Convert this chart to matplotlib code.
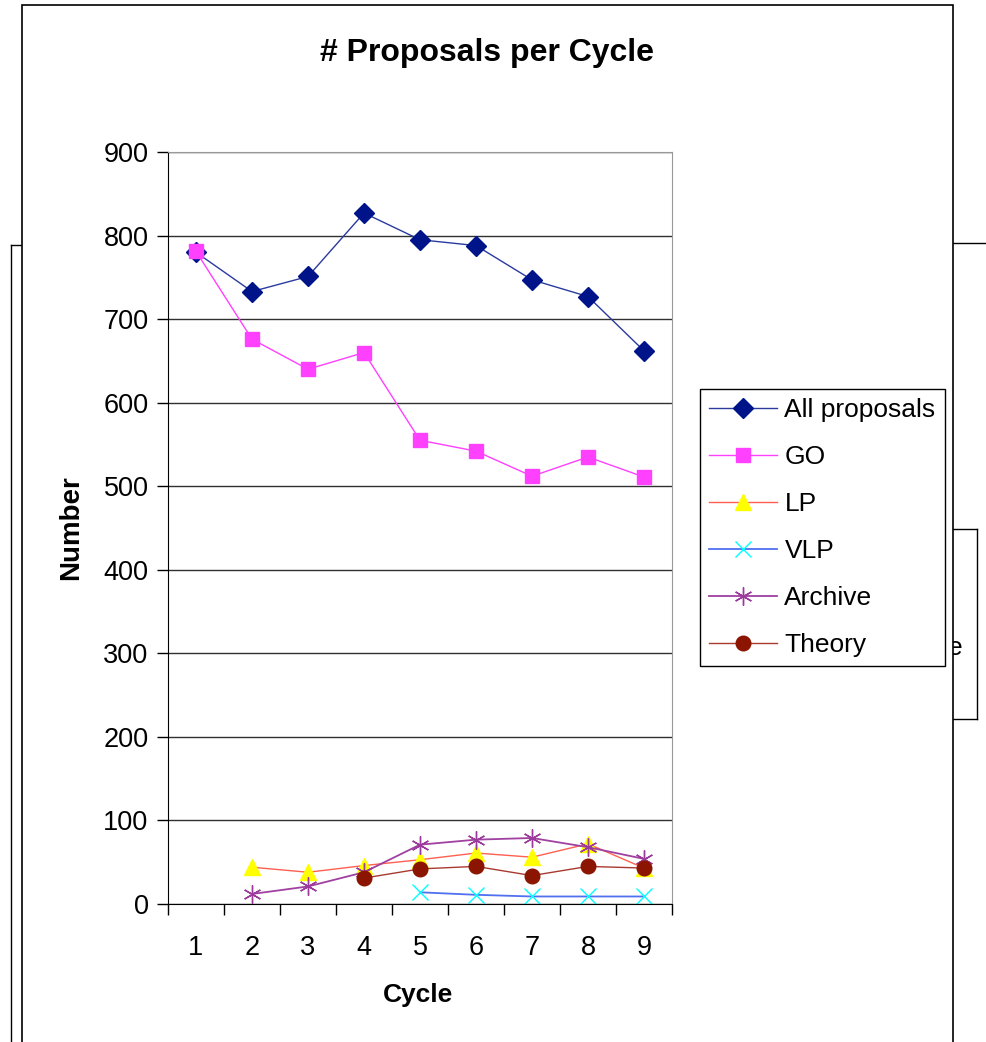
import numpy as np
import matplotlib
matplotlib.use("Agg")
import matplotlib.pyplot as plt
from matplotlib.patches import Rectangle
from matplotlib.lines import Line2D

plt.rcParams['font.family'] = ['Liberation Sans', 'DejaVu Sans']

cycles = [1, 2, 3, 4, 5, 6, 7, 8, 9]
nan = np.nan
all_proposals = [780, 733, 751, 827, 795, 788, 747, 727, 662]
go = [781, 676, 640, 660, 555, 542, 512, 535, 511]
lp = [nan, 44, 38, 46, 53, 61, 56, 72, 43]
vlp = [nan, nan, nan, nan, 14, 11, 9, 9, 9]
archive = [nan, 12, 21, 38, 71, 77, 79, 68, 54]
theory = [nan, nan, nan, 31, 42, 45, 34, 45, 43]

W, H = 987, 1042
fig = plt.figure(figsize=(W / 100, H / 100), dpi=100)


def fx(px):
    return px / W


def fy(py):
    return 1 - py / H


# background bits of other overlapping objects
fig.text(fx(963), fy(648), "e", ha="right", va="center", fontsize=19, zorder=-3)
for xs, ys in [([11, 11], [1042, 245]), ([11, 22], [245, 245]),
               ([953, 987], [243, 243]), ([940, 977], [529, 529]),
               ([977, 977], [529, 719]), ([940, 977], [719, 719])]:
    fig.add_artist(Line2D([fx(x) for x in xs], [fy(y) for y in ys],
                          color="black", lw=1, zorder=-3))
fig.add_artist(Rectangle((fx(22), fy(1060)), fx(953) - fx(22), fy(5) - fy(1060),
                         facecolor="white", edgecolor="black", lw=1.2, zorder=-1))

ax = fig.add_axes([fx(168), fy(904), fx(672) - fx(168), fy(152) - fy(904)])
ax.set_facecolor("none")

ax.plot(cycles, all_proposals, color="#2a3a9e", lw=1, marker="D", ms=10,
        mfc="#001489", mec="#001489", label="All proposals")
ax.plot(cycles, go, color="#ff40ff", lw=1, marker="s", ms=10,
        mfc="#ff40ff", mec="#ff40ff", label="GO")
ax.plot(cycles, lp, color="#ff6050", lw=1, marker="^", ms=12,
        mfc="#ffff00", mec="#ffff00", label="LP")
ax.plot(cycles, vlp, color="#5070f0", lw=1.3, marker="x", ms=11, mew=1,
        mec="#00ffff", label="VLP")
ax.plot(cycles, archive, color="#a040a0", lw=1.3, marker=(6, 2, 0), ms=13, mew=1,
        mec="#9a3a9a", label="Archive")
ax.plot(cycles, theory, color="#a83a30", lw=1, marker="o", ms=10.5,
        mfc="#8b1500", mec="#8b1500", label="Theory")

ax.set_xlim(0.5, 9.5)
ax.set_ylim(0, 900)
ax.set_yticks(range(0, 901, 100))
ax.yaxis.grid(True, color="#303030", lw=1)
ax.set_axisbelow(True)
ax.set_xticks(np.arange(0.5, 9.6, 1))
ax.set_xticklabels([])
ax.set_xticks(cycles, minor=True)
ax.set_xticklabels([str(c) for c in cycles], minor=True)
ax.tick_params(axis="x", which="major", direction="out", length=8, width=1)
ax.tick_params(axis="x", which="minor", length=0, pad=22, labelsize=19.5)
ax.tick_params(axis="y", direction="out", length=8, width=1, pad=6, labelsize=19.5)
for s in ["top", "right"]:
    ax.spines[s].set_color("#999999")
for s in ["left", "bottom"]:
    ax.spines[s].set_color("black")

fig.text(fx(487), fy(53), "# Proposals per Cycle", ha="center", va="center",
         fontsize=23, fontweight="bold")
fig.text(fx(71), fy(528), "Number", ha="center", va="center", rotation=90,
         fontsize=20, fontweight="bold")
fig.text(fx(418), fy(995), "Cycle", ha="center", va="center",
         fontsize=19, fontweight="bold")

fig.legend(loc="upper left", bbox_to_anchor=(fx(700), fy(389)), borderaxespad=0,
           fontsize=19, frameon=True, fancybox=False, edgecolor="black",
           framealpha=1, handlelength=2.55, handletextpad=0.3, labelspacing=0.87,
           borderpad=0.35)

fig.savefig("out.png", dpi=100)
